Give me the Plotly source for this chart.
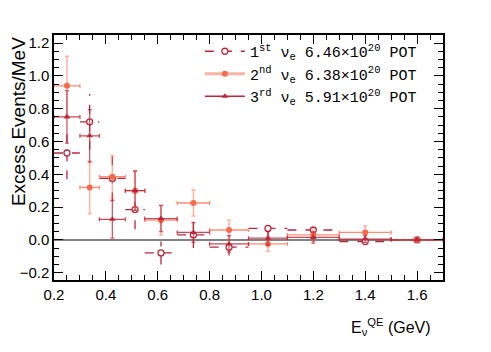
import plotly.graph_objects as go

# bin centres and half widths (GeV)
e_centre = [0.25, 0.3375, 0.425, 0.5125, 0.6125, 0.7375, 0.875, 1.025, 1.2, 1.4, 1.6]
e_half = [0.05, 0.0375, 0.05, 0.0375, 0.0625, 0.0625, 0.075, 0.075, 0.1, 0.1, 0.1]

# excess events / MeV for each run period
run1 = [0.53, 0.72, 0.375, 0.185, -0.08, 0.03, -0.045, 0.07, 0.06, -0.01, 0.0]
run1_err = [0.16, 0.17, 0.14, 0.12, 0.07, 0.08, 0.05, 0.055, 0.04, 0.02, 0.005]
run2 = [0.94, 0.32, 0.385, 0.30, 0.12, 0.225, 0.06, -0.025, 0.03, 0.045, 0.0]
run2_err = [0.18, 0.16, 0.13, 0.12, 0.09, 0.08, 0.06, 0.045, 0.04, 0.04, 0.005]
run3 = [0.75, 0.635, 0.125, 0.30, 0.13, 0.045, -0.025, 0.01, 0.015, 0.005, 0.0]
run3_err = [0.16, 0.16, 0.115, 0.12, 0.08, 0.06, 0.05, 0.04, 0.035, 0.02, 0.005]

labels = [
    "1<sup>st</sup> ν<sub>e</sub> 6.46×10<sup>20</sup> POT",
    "2<sup>nd</sup> ν<sub>e</sub> 6.38×10<sup>20</sup> POT",
    "3<sup>rd</sup> ν<sub>e</sub> 5.91×10<sup>20</sup> POT",
]

c1 = "#b8283c"
c2 = "#f86a4a"
c3 = "#c0253a"

fig = go.Figure()

# run 1: dashed error bars built as line segments
seg_x, seg_y = [], []
for x, y, ex, ey in zip(e_centre, run1, e_half, run1_err):
    seg_x += [x - ex, x + ex, None, x, x, None]
    seg_y += [y, y, None, y - ey, y + ey, None]
fig.add_trace(go.Scatter(
    x=seg_x, y=seg_y, mode="lines",
    line=dict(color=c1, width=1.3, dash="dash"),
    showlegend=False, hoverinfo="skip",
))
fig.add_trace(go.Scatter(
    x=e_centre, y=run1, mode="markers",
    marker=dict(symbol="circle", size=6, color="white", line=dict(color=c1, width=1.3)),
    showlegend=False,
))

# run 2
fig.add_trace(go.Scatter(
    x=e_centre, y=run2, mode="markers",
    marker=dict(symbol="circle", size=6, color=c2),
    error_x=dict(type="data", array=e_half, color="rgba(248,106,74,0.75)", thickness=1.3, width=2),
    error_y=dict(type="data", array=run2_err, color="rgba(248,106,74,0.5)", thickness=1.5, width=2),
    showlegend=False,
))

# run 3
fig.add_trace(go.Scatter(
    x=e_centre, y=run3, mode="markers",
    marker=dict(symbol="triangle-up", size=6, color=c3),
    error_x=dict(type="data", array=e_half, color="rgba(192,37,58,0.85)", thickness=1.3, width=2),
    error_y=dict(type="data", array=run3_err, color="rgba(192,37,58,0.75)", thickness=1.3, width=2),
    showlegend=False,
))

# legend-only entries
fig.add_trace(go.Scatter(
    x=[None], y=[None], mode="lines+markers", name=labels[0],
    line=dict(color=c1, width=1.3, dash="dash"),
    marker=dict(symbol="circle", size=6, color="white", line=dict(color=c1, width=1.3)),
))
fig.add_trace(go.Scatter(
    x=[None], y=[None], mode="lines+markers", name=labels[1],
    line=dict(color="rgba(248,106,74,0.5)", width=3),
    marker=dict(symbol="circle", size=6, color=c2),
))
fig.add_trace(go.Scatter(
    x=[None], y=[None], mode="lines+markers", name=labels[2],
    line=dict(color=c3, width=1.5),
    marker=dict(symbol="triangle-up", size=6, color=c3),
))

axis_common = dict(
    ticks="inside", mirror="allticks", showline=True, linecolor="black", linewidth=1.5,
    tickcolor="black", ticklen=9, tickwidth=1.2, showgrid=False,
    tickfont=dict(family="Liberation Sans", size=15, color="black"),
)

fig.update_xaxes(
    range=[0.2, 1.7], tick0=0.2, dtick=0.2, tickformat=".1f",
    minor=dict(dtick=0.05, ticks="inside", ticklen=5, tickcolor="black", tickwidth=1),
    zeroline=False, **axis_common,
)
fig.update_yaxes(
    range=[-0.245, 1.25], tick0=0, dtick=0.2, tickformat=".1f",
    minor=dict(dtick=0.05, ticks="inside", ticklen=5, tickcolor="black", tickwidth=1),
    zeroline=True, zerolinecolor="#808080", zerolinewidth=1.5, **axis_common,
)

fig.update_layout(
    width=491, height=352,
    margin=dict(l=40, r=56, t=27, b=80),
    plot_bgcolor="white", paper_bgcolor="white",
    font=dict(family="Liberation Sans", color="black"),
    legend=dict(
        x=0.375, y=1.0, xanchor="left", yanchor="top",
        bgcolor="rgba(0,0,0,0)", borderwidth=0,
        font=dict(family="Liberation Mono", size=15, color="black"),
        itemwidth=40, tracegroupgap=0,
    ),
    annotations=[
        dict(
            text="Excess Events/MeV", textangle=-90,
            xref="paper", yref="paper", x=-0.091, y=1.0,
            xanchor="center", yanchor="top", showarrow=False,
            font=dict(family="Liberation Sans", size=19, color="black"),
        ),
        dict(
            text="E<sub>ν</sub><sup>QE</sup> (GeV)",
            xref="paper", yref="paper", x=0.975, y=-0.19,
            xanchor="right", yanchor="middle", showarrow=False,
            font=dict(family="Liberation Sans", size=16, color="black"),
        ),
    ],
)

fig.write_html("out.html")
